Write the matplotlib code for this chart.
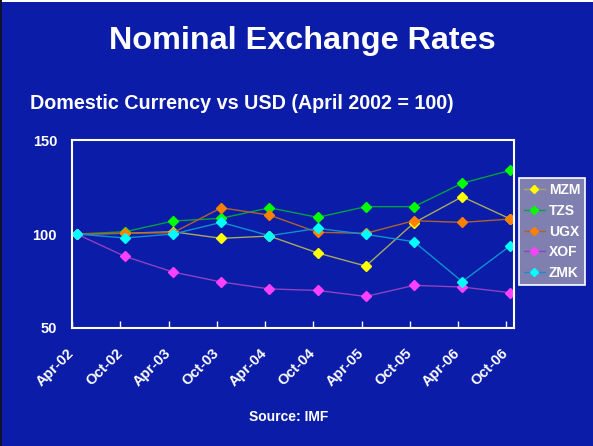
import matplotlib
matplotlib.use("Agg")
import matplotlib.pyplot as plt
from matplotlib.patches import Rectangle
from matplotlib.transforms import ScaledTranslation

plt.rcParams['font.family'] = ['Liberation Sans', 'DejaVu Sans']
plt.rcParams['font.weight'] = 'bold'

months = ['Apr-02', 'Oct-02', 'Apr-03', 'Oct-03', 'Apr-04',
          'Oct-04', 'Apr-05', 'Oct-05', 'Apr-06', 'Oct-06']

mzm = [100, 100.4, 101.2, 97.7, 98.9, 89.9, 82.9, 106, 119.9, 108]
tzs = [100, 101.2, 106.9, 108.4, 114, 108.9, 114.6, 114.6, 127.1, 134]
ugx = [100, 100.4, 100.7, 114, 110.1, 100.9, 100.4, 107.1, 106.2, 108]
xof = [100, 88.1, 79.7, 74.4, 70.7, 69.9, 66.7, 72.6, 71.7, 68.7]
zmk = [100, 97.9, 100, 106.2, 99.1, 103, 99.8, 95.9, 74.6, 93.8]

series = [
    ('MZM', mzm, '#a8a860', '#ffff00'),
    ('TZS', tzs, '#00a040', '#00ff00'),
    ('UGX', ugx, '#b06030', '#ff7f00'),
    ('XOF', xof, '#9040c0', '#ff40ff'),
    ('ZMK', zmk, '#1090d0', '#00ffff'),
]

bg = '#0a1ca8'
fig = plt.figure(figsize=(5.93, 4.46), dpi=100, facecolor=bg)
fig.patches.append(Rectangle((0, 0.995), 1, 0.005, transform=fig.transFigure,
                             facecolor='white', edgecolor='none'))
fig.patches.append(Rectangle((0, 0), 0.003, 1, transform=fig.transFigure,
                             facecolor='#101030', edgecolor='none'))

ax = fig.add_axes([0.1219, 0.2652, 0.7454, 0.4202])
ax.set_facecolor(bg)

x = list(range(len(months)))
for name, vals, lc, mc in series:
    ax.plot(x, vals, color=lc, lw=1.0, marker='D', ms=5,
            markerfacecolor=mc, markeredgecolor=mc, label=name)

ax.set_xlim(-0.09, 9.08)
ax.set_ylim(50, 150)
ax.set_yticks([50, 100, 150])
ax.tick_params(axis='y', length=0, colors='white', labelsize=10.5, pad=11)
ticks = [i - 0.09 for i in x]
ax.set_xticks(ticks)
ax.set_xticklabels(months, rotation=45, ha='right', va='top',
                   rotation_mode='anchor', fontsize=10.5, color='white')
ax.tick_params(axis='x', direction='in', length=5, colors='white',
               labelcolor='white', pad=13, width=1)
shift = ScaledTranslation(-5 / 100, 0, fig.dpi_scale_trans)
for lbl in ax.get_xticklabels():
    lbl.set_transform(lbl.get_transform() + shift)
for s in ax.spines.values():
    s.set_color('white')
    s.set_linewidth(1.5)

leg = ax.legend(loc='upper left', bbox_to_anchor=(1.011, 0.797),
                borderaxespad=0, facecolor='#8080b0', edgecolor='white',
                framealpha=1, fancybox=False, fontsize=10, handlelength=1.5,
                labelspacing=0.48, borderpad=0.35, handletextpad=0.3,
                markerscale=0.8)
leg.get_frame().set_linewidth(1.2)
for t in leg.get_texts():
    t.set_color('white')
    t.set_fontweight('bold')

fig.text(0.51, 0.907, 'Nominal Exchange Rates', ha='center', va='center',
         fontsize=23.3, color='white', fontweight='bold')
fig.text(0.05, 0.769, 'Domestic Currency vs USD (April 2002 = 100)', ha='left',
         va='center', fontsize=14.2, color='white', fontweight='bold')
fig.text(0.486, 0.065, 'Source: IMF', ha='center', va='center',
         fontsize=10, color='white', fontweight='bold')

fig.savefig('out.png', dpi=100, facecolor=bg)
